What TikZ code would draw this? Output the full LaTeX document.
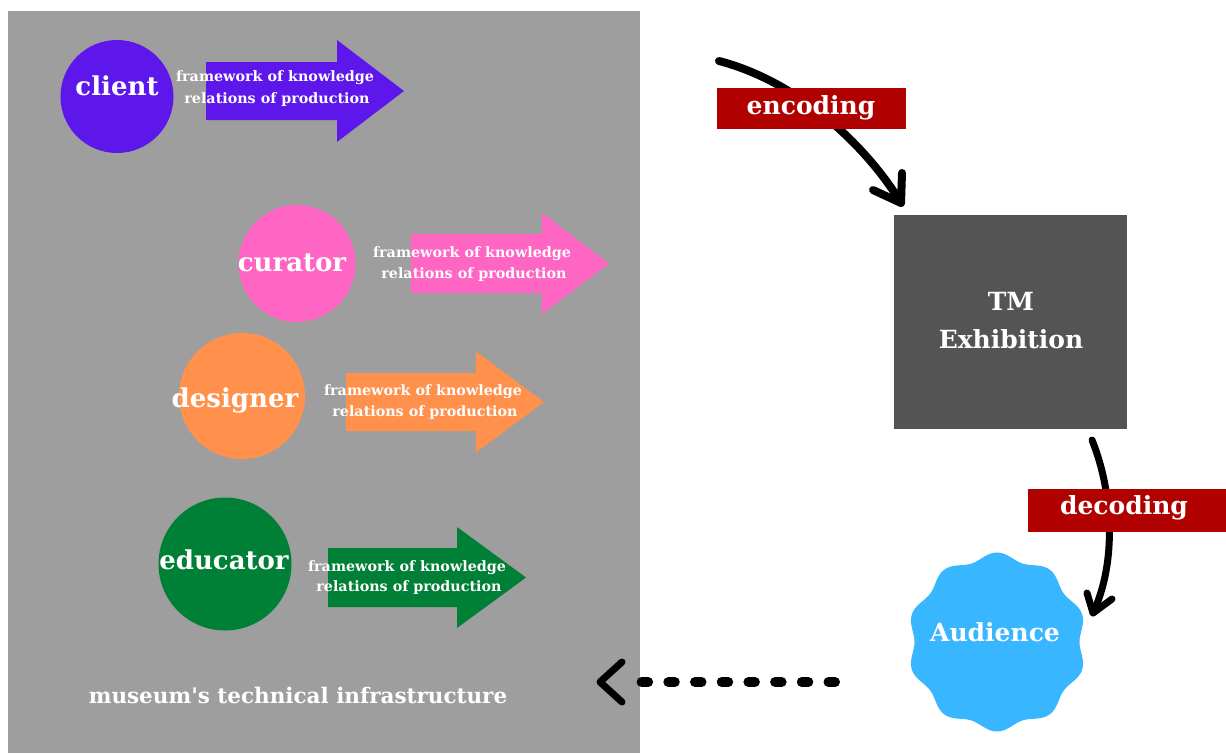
\documentclass[tikz,border=0pt]{standalone}
\usepackage{fontspec}
\setmainfont{DejaVu Serif}[Ligatures=TeXOff]
\definecolor{panel}{HTML}{9E9E9E}
\definecolor{cclient}{HTML}{5E17EB}
\definecolor{ccurator}{HTML}{FF66C4}
\definecolor{cdesigner}{HTML}{FF914D}
\definecolor{ceducator}{HTML}{008037}
\definecolor{ctm}{HTML}{545454}
\definecolor{cred}{HTML}{B00000}
\definecolor{caud}{HTML}{38B6FF}
\newcommand\bigarrow[8]{% fill color, xs, xh, xt, yc, hs, hh, name
  \fill[#1] (#2,#5-#6) -- (#3,#5-#6) -- (#3,#5-#7) -- (#4,#5) -- (#3,#5+#7) -- (#3,#5+#6) -- (#2,#5+#6) -- cycle;
  \coordinate (#8) at (#4,#5);}
\begin{document}
\begin{tikzpicture}[x=1pt,y=-1pt,
  role/.style={circle, inner sep=0, minimum size=#1},
  lbl/.style={text=white, font=\bfseries\fontsize{26}{26}\selectfont, anchor=base, inner sep=0},
  frm/.style={text=white, font=\bfseries\fontsize{14.3}{16}\selectfont, anchor=base, inner sep=0},
  mid/.style={text=white, font=\bfseries\fontsize{25}{25}\selectfont, anchor=base, inner sep=0},
  tag/.style={fill=cred, inner sep=0},
  conn/.style={line width=8pt, line cap=round, line join=round}]
\useasboundingbox (0,0) rectangle (1226,753);
\fill[white] (0,0) rectangle (1226,753);
% panel
\fill[panel] (8,11) rectangle (640,753);
% client
\node[role=113pt, fill=cclient] (client) at (117,96.5) {};
\node[lbl] (clientl) at (117,95) {client};
\bigarrow{cclient}{206}{337}{404}{91}{29}{51}{clienttip}
\node[frm] (cf1) at (275,81) {framework of knowledge};
\node[frm] (cf2) at (277,103) {relations of production};
% curator
\node[role=117pt, fill=ccurator] (curator) at (297,263.5) {};
\node[lbl] (curatorl) at (292,271) {curator};
\bigarrow{ccurator}{411}{542}{609}{263.5}{29.5}{50.5}{curatortip}
\node[frm] (uf1) at (472,257) {framework of knowledge};
\node[frm] (uf2) at (474,278) {relations of production};
% designer
\node[role=126pt, fill=cdesigner] (designer) at (242,396) {};
\node[lbl] (designerl) at (235,407) {designer};
\bigarrow{cdesigner}{346}{476}{544}{402}{29}{50.5}{designertip}
\node[frm] (df1) at (423,395) {framework of knowledge};
\node[frm] (df2) at (425,416) {relations of production};
% educator
\node[role=133pt, fill=ceducator] (educator) at (225,564) {};
\node[lbl] (educatorl) at (224,569) {educator};
\bigarrow{ceducator}{328}{457}{526}{577.5}{29.5}{50.5}{educatortip}
\node[frm] (ef1) at (407,571) {framework of knowledge};
\node[frm] (ef2) at (409,591) {relations of production};
% infrastructure label
\node[text=white, font=\bfseries\fontsize{21.5}{21.5}\selectfont, anchor=base, inner sep=0] (infra) at (298,703) {museum's technical infrastructure};
% TM Exhibition
\node[fill=ctm, minimum width=233pt, minimum height=214pt, inner sep=0] (tm) at (1010.5,322) {};
\node[mid] (tm1) at (1011,310) {TM};
\node[mid] (tm2) at (1011,348) {Exhibition};
% Audience
\fill[caud] plot[domain=0:359, samples=240, smooth cycle]
  ({997+(86+3.5*cos(10*(\x-90)))*cos(\x)}, {642-(86+3.5*cos(10*(\x-90)))*sin(\x)});
\node[circle, minimum size=172pt, inner sep=0] (aud) at (997,642) {};
\node[mid] (audl) at (995,641) {Audience};
% encoding connector
\coordinate (encstart) at (719,61);
\coordinate (encend) at (901,203);
\draw[conn] (encstart) .. controls (800,82) and (868,148) .. (encend);
\draw[conn] (873,190) -- (encend) -- (902,173);
\node[tag, minimum width=189pt, minimum height=41pt] (enc) at (811.5,108.5) {};
\node[mid] (encl) at (811,114) {encoding};
% decoding connector
\coordinate (decstart) at (1092,440);
\coordinate (decend) at (1093,613);
\draw[conn, line width=7pt] (decstart) .. controls (1113,492) and (1117,562) .. (decend);
\draw[conn, line width=7pt] (1087,593) -- (decend) -- (1112,599);
\node[tag, minimum width=198pt, minimum height=43pt] (dec) at (1127,510.5) {};
\node[mid] (decl) at (1124,514) {decoding};
% feedback dashed connector
\coordinate (fbstart) at (835,682);
\coordinate (fbend) at (600,682);
\draw[line width=10pt, line cap=round, dash pattern=on 6.5pt off 20.2pt] (fbstart) -- (628,682);
\draw[conn, line width=7pt] (622,662) -- (fbend) -- (622,702);
\end{tikzpicture}
\end{document}
